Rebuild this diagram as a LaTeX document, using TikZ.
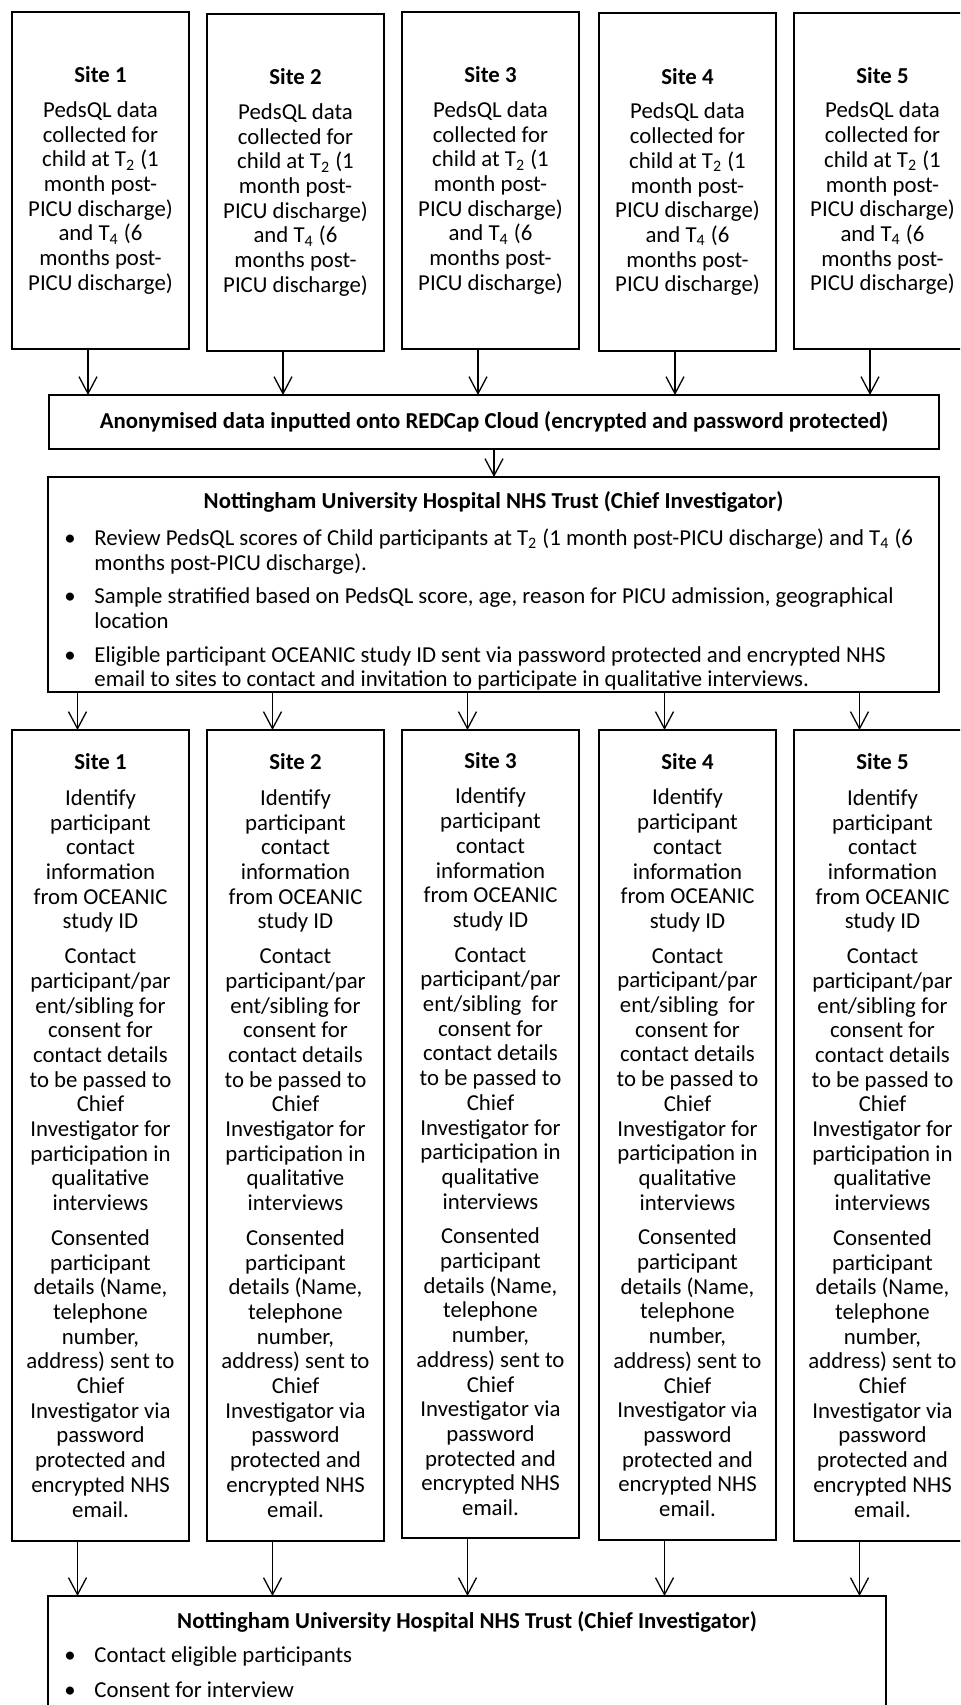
\documentclass[tikz,border=0pt]{standalone}
\usepackage{fontspec}
\setmainfont{Carlito}
\usetikzlibrary{arrows.meta}
\newcommand\ocTop[1]{\textbf{Site #1}\\[5pt]PedsQL data\\collected for\\child at T\textsubscript{2} (1\\month post-\\PICU discharge)\\and T\textsubscript{4} (6\\months post-\\PICU discharge)}
\newcommand\ocLow[2]{\textbf{Site #1}\\[5.5pt]Identify\\participant\\contact\\information\\from OCEANIC\\study ID\\[5pt]Contact\\participant/par\\ent/sibling#2for\\consent for\\contact details\\to be passed to\\Chief\\Investigator for\\participation in\\qualitative\\interviews\\[5pt]Consented\\participant\\details (Name,\\telephone\\number,\\address) sent to\\Chief\\Investigator via\\password\\protected and\\encrypted NHS\\email.}
\begin{document}
\begin{tikzpicture}[x=0.5pt,y=-0.5pt,
  basefont/.style={font=\fontsize{11.4}{12.35}\selectfont},
  box/.style={draw, line width=1.1pt, inner sep=0pt, outer sep=0pt, anchor=north west, align=center, basefont},
  sitebox/.style={box, minimum width=88.5pt},
  arr/.style={line width=0.65pt, -{Straight Barb[length=8.5pt,width=9pt,line width=0.65pt]}},
  txt/.style={anchor=base west, inner sep=0pt, basefont},
  ttl/.style={anchor=base, inner sep=0pt, basefont, font=\fontsize{11.4}{12.35}\selectfont\bfseries},
]
\useasboundingbox (0,0) rectangle (960,1705);
\clip (0,0) rectangle (960,1705);
\fill[white] (0,0) rectangle (960,1705);

% top row
\node[sitebox, minimum height=168.5pt] (t1) at (12,12) {\ocTop{1}};
\node[sitebox, minimum height=168.5pt] (t2) at (207,14) {\ocTop{2}};
\node[sitebox, minimum height=168.5pt] (t3) at (402,12) {\ocTop{3}};
\node[sitebox, minimum height=169pt] (t4) at (599,13) {\ocTop{4}};
\node[sitebox, minimum height=168pt] (t5) at (794,13) {\ocTop{5}};

% anonymised box
\node[box, minimum width=445pt, minimum height=27pt, font=\fontsize{11.4}{12.35}\selectfont\bfseries] (anon) at (49,395)
  {Anonymised data inputted onto REDCap Cloud (encrypted and password protected)};

% middle NUH box
\node[box, minimum width=445.5pt, minimum height=107.5pt] (nuh) at (48,477) {};
\node[ttl] (nuhT) at (493.5,508) {Nottingham University Hospital NHS Trust (Chief Investigator)};
\node[txt] (nb1) at (64,545) {\textbullet};
\node[txt] (n1a) at (94,545) {Review PedsQL scores of Child participants at T\textsubscript{2} (1 month post-PICU discharge) and T\textsubscript{4} (6};
\node[txt] (n1b) at (94,570) {months post-PICU discharge).};
\node[txt] (nb2) at (64,603) {\textbullet};
\node[txt] (n2a) at (94,603) {Sample stratified based on PedsQL score, age, reason for PICU admission, geographical};
\node[txt] (n2b) at (94,628) {location};
\node[txt] (nb3) at (64,662) {\textbullet};
\node[txt] (n3a) at (94,662) {Eligible participant OCEANIC study ID sent via password protected and encrypted NHS};
\node[txt] (n3b) at (94,686) {email to sites to contact and invitation to participate in qualitative interviews.};

% lower row
\node[sitebox, minimum height=405.5pt] (l1) at (12,730) {\ocLow{1}{\ }};
\node[sitebox, minimum height=405.5pt] (l2) at (207,730) {\ocLow{2}{\ }};
\node[sitebox, minimum height=404pt] (l3) at (402,730) {\ocLow{3}{\ \ }};
\node[sitebox, minimum height=405pt] (l4) at (599,730) {\ocLow{4}{\ \ }};
\node[sitebox, minimum height=405.5pt] (l5) at (794,730) {\ocLow{5}{\ }};

% bottom NUH box
\node[box, minimum width=419pt, minimum height=100pt] (fin) at (48,1596) {};
\node[ttl] (finT) at (467,1628) {Nottingham University Hospital NHS Trust (Chief Investigator)};
\node[txt] (fb1) at (64,1662) {\textbullet};
\node[txt] (f1) at (94,1662) {Contact eligible participants};
\node[txt] (fb2) at (64,1697) {\textbullet};
\node[txt] (f2) at (94,1697) {Consent for interview};

% arrows
\foreach \i in {1,...,5}{
  \draw[arr] ([xshift=38pt]t\i.south west) -- ([xshift=38pt]t\i.south west |- anon.north);
  \draw[arr] ([xshift=32.75pt]l\i.north west |- nuh.south) -- ([xshift=32.75pt]l\i.north west);
  \draw[arr] ([xshift=32.75pt]l\i.south west) -- ([xshift=32.75pt]l\i.south west |- fin.north);
}
\draw[arr] (anon.south) -- (anon.south |- nuh.north);
\end{tikzpicture}
\end{document}
